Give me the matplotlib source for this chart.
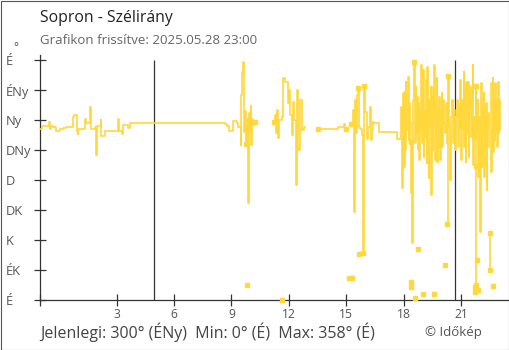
import numpy as np
import matplotlib
matplotlib.use("Agg")
import matplotlib.pyplot as plt
from matplotlib.patches import Rectangle

plt.rcParams['font.family'] = ['Open Sans', 'DejaVu Sans']

# hours from 2025.05.28 00:00 and wind direction in degrees (None = gap in data)
t_night = [-1.0, -0.9, -0.55, -0.48, -0.42, -0.32, -0.17, 0.02, 0.2, 0.35,
           0.72, 0.80, 0.94, 0.97, 1.01, 1.33, 1.41, 1.59, 1.64, 1.85,
           1.95, 1.99, 2.16, 2.2, 2.37, 3.07, 3.12, 3.27, 3.33, 3.42,
           3.59, 3.68,
           8.66, 8.75, 8.87, 9.10, 9.27, 9.33, 9.48, 9.52, 9.56, 9.60,
           9.63, 9.66, 9.70, 9.74, 9.80, 9.84, 9.88, 9.90, 9.95, 10.0,
           10.04, 10.08, 10.15, 10.22, 10.26]
d_night = [257, 261, 267, 256, 261, 259, 253, 256, 258, 260,
           275, 278, 253, 249, 257, 272, 266, 289, 256, 259,
           217, 261, 270, 246, 254, 271, 254, 249, 262, 263,
           258, 266,
           264, 261, 254, 269, 265, 260, 233, 307, 342, 357,
           293, 252, 283, 234, 262, 272, 145, 280, 255, 291,
           233, 272, 262, 267, None]

t_noon = [11.22, 11.27, 11.31, 11.40, 11.44, 11.50, 11.62, 11.71, 11.80, 11.97,
          12.03, 12.08, 12.15, 12.20, 12.27, 12.35, 12.40, 12.50, 12.58, 12.68,
          12.78, 12.84]
d_noon = [267, 277, 250, 285, 243, 270, 275, 333, 327, 295,
          315, 278, 248, 297, 270, 172, 315, 225, 300, 255,
          260, None]

t_aft = [13.52, 14.58, 14.88, 14.93, 15.04]
d_aft = [257, 259, 264, 256, None]

t_eve = [15.25, 15.35, 15.40, 15.44, 15.50, 15.55, 15.60, 15.65, 15.72, 15.80,
         15.89, 15.94, 15.98, 16.08, 16.15, 16.22, 16.28, 16.34, 16.38, 16.41,
         16.73, 17.67]
d_eve = [264, 285, 132, 300, 250, 307, 317, 260, 257, 247,
         71, 321, 282, 242, 260, 290, 240, 255, 267, 266,
         252, 242]

# gusty evening
t_late = [17.86, 17.90, 17.93, 17.97, 18.00, 18.04, 18.07, 18.11, 18.14, 18.18,
          18.21, 18.25, 18.28, 18.31, 18.35, 18.38, 18.42, 18.45, 18.49, 18.52,
          18.56, 18.59, 18.63, 18.66, 18.70, 18.73, 18.77, 18.80, 18.84, 18.87,
          18.91, 18.94, 18.98, 19.01, 19.05, 19.08, 19.12, 19.15, 19.19, 19.22,
          19.26, 19.29, 19.33, 19.36, 19.40, 19.43, 19.46, 19.50, 19.53, 19.57,
          19.60, 19.64, 19.67, 19.71, 19.74, 19.78, 19.81, 19.85, 19.88, 19.92,
          19.95, 19.99, 20.02, 20.06, 20.09, 20.13, 20.20, 20.25, 20.265, 20.28,
          20.32, 20.37, 20.42, 20.48, 20.51, 20.56, 20.615, 20.67, 20.72, 20.77,
          20.82, 20.86, 20.89, 20.95, 21.00, 21.03, 21.09, 21.12, 21.155, 21.19,
          21.225, 21.26, 21.29, 21.35, 21.38, 21.42, 21.47, 21.52, 21.56, 21.59,
          21.63, 21.66, 21.70, 21.75, 21.765, 21.78, 21.80, 21.82, 21.85, 21.89,
          21.92, 21.96, 21.99, 22.03, 22.06, 22.10, 22.13, 22.17, 22.20, 22.24,
          22.27, 22.30, 22.34, 22.37, 22.41, 22.44, 22.46, 22.48, 22.50, 22.515,
          22.53, 22.57, 22.60, 22.64, 22.67, 22.71, 22.74, 22.78, 22.81, 22.85,
          22.88, 22.92, 22.95, 22.98, 23.02, 23.04]
d_late = [290, 215, 167.5, 310, 200, 312.5, 225, 327.5, 255, 285,
          335, 240, 295, 265, 237.5, 160, 237.5, 85, 300, 357.5,
          325, 235, 320, 250, 305, 225, 295, 210, 285, 255,
          352.5, 235, 290, 345, 215, 285, 245, 330, 205, 350,
          225, 182.5, 300, 260, 320, 157.5, 305, 225, 320, 270,
          352.5, 210, 300, 332.5, 207.5, 290, 230, 305, 210, 285,
          250, 310, 230, 300, 265, 250, 295, 235, None, 113.5,
          335.5, 260, 180, 275, 300, 235, 285, 225, 275, 300,
          230, 290, 260, 330, 210, 300, 255, 342.5, 230, 315,
          207.5, 327.5, 250, 327.5, 215, 290, 320, 245, 300, 352.5,
          202.5, 275, 240, 321, 200.5, 22, None, 255, 300, 185,
          275, 245, 102.5, 325, 200, 285, 250, 310, 185, 275,
          225, 295, 165, 255, 280, 230, None, 100, 44.5, None,
          325, 192.5, 255, 332.5, 222.5, 300, 240, 325, 255, 300,
          230, 327.5, 250, 300, 255, None]

pair_t = [15.16, 15.28]
pair_d = [32.5, 32.5]

# single readings
iso_t = [9.83, 11.66, 15.68, 18.35, 18.35, 18.56, 18.72, 18.98, 19.60, 20.13,
         21.70, 21.70, 21.80, 21.85, 22.64]
iso_d = [22.5, 0, 68.5, 26.5, 19, 2.5, 76, 8.5, 8.5, 52,
         20, 11.5, 59.5, 14.5, 20.5]

# readings drawn with a marker on the line
mark_t = [9.77, 10.22, 11.22, 13.52, 15.0, 15.25, 15.63, 15.89, 15.94, 18.35,
          18.52, 20.28, 20.32, 21.75, 21.765, 21.78, 22.48, 22.50]
mark_d = [233.5, 267, 267, 257, 256, 264, 317.5, 71, 321, 237.5,
          357.5, 113.5, 335.5, 321, 200.5, 22, 100, 44.5]

sun_lines = [4.95, 20.68]  # sunrise, sunset
dir_ticks = [0, 45, 90, 135, 180, 225, 270, 315, 360]
dir_labels = ['É', 'ÉK', 'K', 'DK', 'D', 'DNy', 'Ny', 'ÉNy', 'É']
hour_ticks = [-1, 3, 6, 9, 12, 15, 18, 21]
hour_labels = ['', '3', '6', '9', '12', '15', '18', '21']

YELLOW = '#FFD83D'
DARK = '#333333'

W, H = 510, 350
fig = plt.figure(figsize=(W / 100, H / 100), dpi=100)
ax = fig.add_axes([40 / W, 50 / H, 469.5 / W, 245 / H])

ax.vlines(sun_lines, 0, 360, color=DARK, lw=0.9, zorder=1)

t_all = np.array(t_night + t_noon + t_aft + t_eve + t_late, dtype=float)
d_all = np.array(d_night + d_noon + d_aft + d_eve + d_late, dtype=float)
ax.step(t_all, d_all, where='post', color=YELLOW, lw=1.2, zorder=3)
ax.plot(pair_t, pair_d, color=YELLOW, lw=1.2, marker='s', ms=2.2, zorder=3)
ax.plot(mark_t + iso_t, mark_d + iso_d, ls='none', marker='s', ms=2.2,
        color=YELLOW, zorder=3, clip_on=False)

ax.set_xlim(-1, 23.52)
ax.set_ylim(0, 367.5)
ax.set_xticks(hour_ticks)
ax.set_xticklabels(hour_labels)
ax.set_yticks(dir_ticks)
ax.set_yticklabels(dir_labels)
for lab in ax.get_yticklabels():
    lab.set_ha('left')

ax.tick_params(axis='both', direction='inout', length=9, width=0.9, color=DARK,
               labelcolor='#555555')
ax.tick_params(axis='y', pad=20, labelsize=9.3)
ax.tick_params(axis='x', pad=1, labelsize=8.7)

for side in ['top', 'right']:
    ax.spines[side].set_visible(False)
for side in ['left', 'bottom']:
    ax.spines[side].set_color(DARK)
    ax.spines[side].set_linewidth(0.9)

fig.text(40 / W, 1 - 18 / H, 'Sopron - Szélirány', fontsize=11.3, color='#222222', va='center')
fig.text(40 / W, 1 - 40 / H, 'Grafikon frissítve: 2025.05.28 23:00', fontsize=9.5,
         color='#666666', va='center')
fig.text(13 / W, 1 - 48 / H, '°', fontsize=8.5, color='#555555', va='center')
fig.text(40 / W, 1 - 338.5 / H, 'Jelenlegi: 300° (ÉNy)  Min: 0° (É)  Max: 358° (É)',
         fontsize=11.5, color='#444444', va='baseline')
fig.text(425 / W, 1 - 336 / H, '© Időkép', fontsize=9.5, color='#555555', va='baseline')

fig.patches.append(Rectangle((0.5 / W, 0.5 / H), 1 - 1 / W, 1 - 1 / H, transform=fig.transFigure,
                             fill=False, edgecolor='#555555', lw=0.8))

fig.savefig('out.png', dpi=100)
